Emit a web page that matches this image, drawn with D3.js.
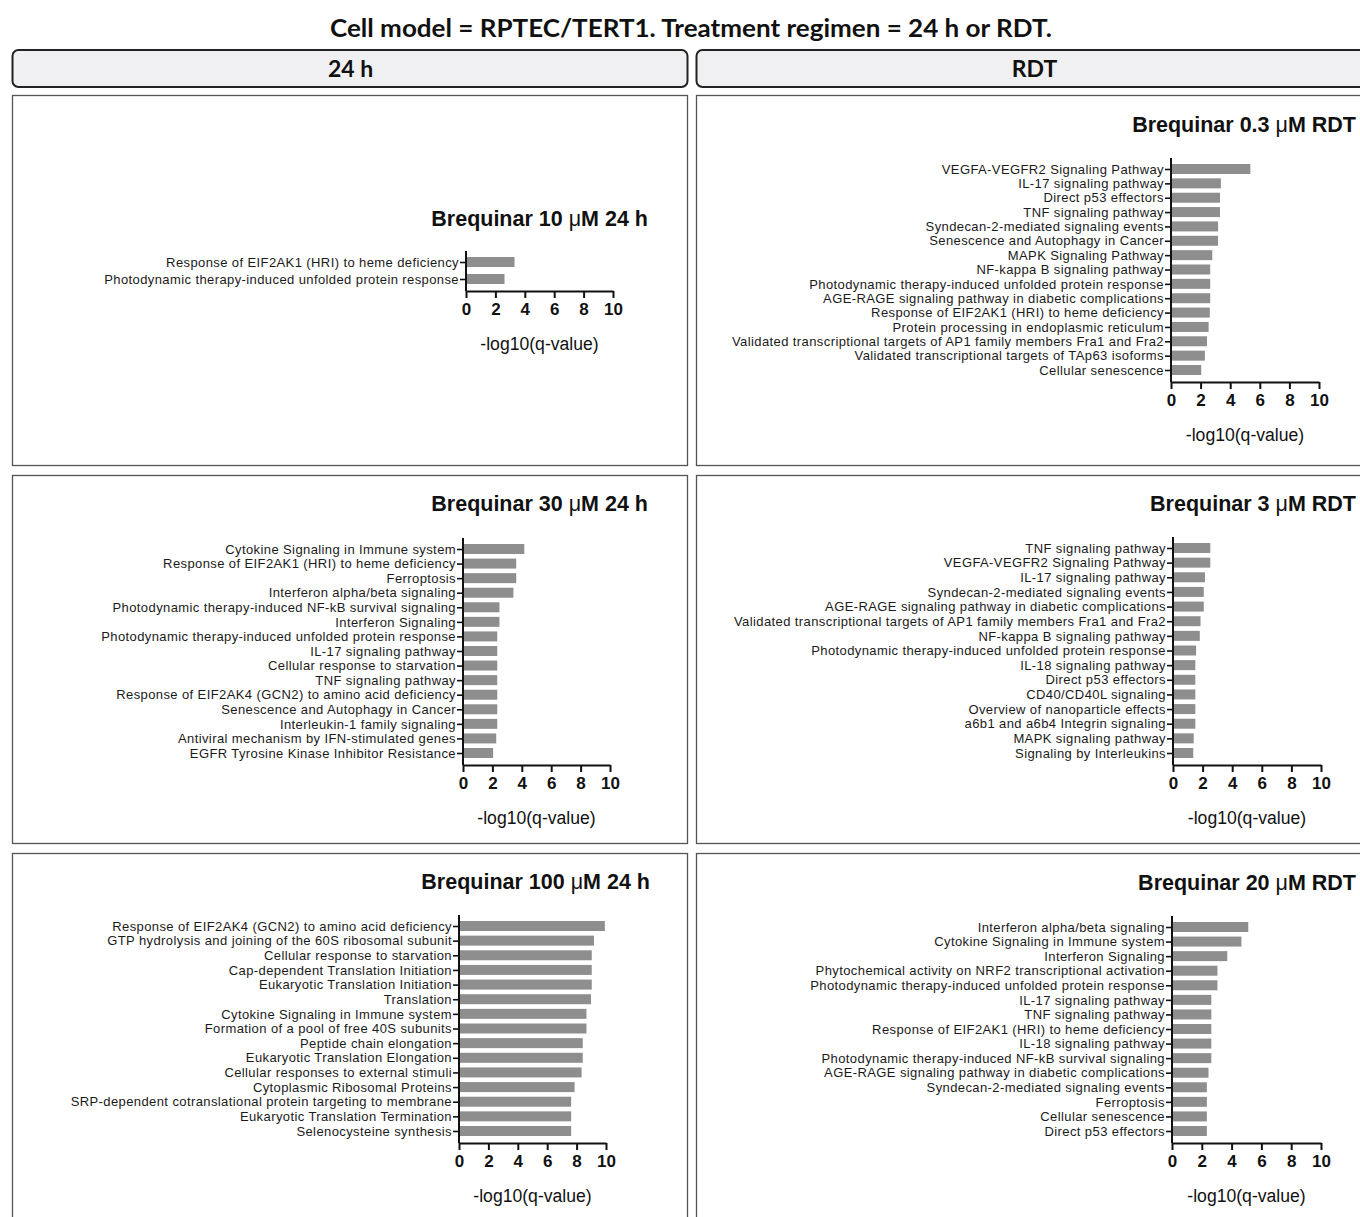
<!DOCTYPE html>
<html>
<head>
<meta charset="utf-8">
<script src="https://cdn.jsdelivr.net/npm/d3@7"></script>
<style>
  html, body { margin: 0; padding: 0; background: #fff; }
  svg { display: block; }
</style>
</head>
<body>
<script>
// ---- Enrichment results: pathway terms and -log10(q-value) per condition ----
const xTicks = [0, 2, 4, 6, 8, 10];

const terms10uM24h = [
  "Response of EIF2AK1 (HRI) to heme deficiency",
  "Photodynamic therapy-induced unfolded protein response"
];
const values10uM24h = [3.3, 2.62];

const terms03uMRDT = [
  "VEGFA-VEGFR2 Signaling Pathway",
  "IL-17 signaling pathway",
  "Direct p53 effectors",
  "TNF signaling pathway",
  "Syndecan-2-mediated signaling events",
  "Senescence and Autophagy in Cancer",
  "MAPK Signaling Pathway",
  "NF-kappa B signaling pathway",
  "Photodynamic therapy-induced unfolded protein response",
  "AGE-RAGE signaling pathway in diabetic complications",
  "Response of EIF2AK1 (HRI) to heme deficiency",
  "Protein processing in endoplasmic reticulum",
  "Validated transcriptional targets of AP1 family members Fra1 and Fra2",
  "Validated transcriptional targets of TAp63 isoforms",
  "Cellular senescence"
];
const values03uMRDT = [5.36, 3.37, 3.31, 3.31, 3.18, 3.18, 2.79, 2.65, 2.65, 2.65, 2.62, 2.54, 2.43, 2.29, 2.04];

const terms30uM24h = [
  "Cytokine Signaling in Immune system",
  "Response of EIF2AK1 (HRI) to heme deficiency",
  "Ferroptosis",
  "Interferon alpha/beta signaling",
  "Photodynamic therapy-induced NF-kB survival signaling",
  "Interferon Signaling",
  "Photodynamic therapy-induced unfolded protein response",
  "IL-17 signaling pathway",
  "Cellular response to starvation",
  "TNF signaling pathway",
  "Response of EIF2AK4 (GCN2) to amino acid deficiency",
  "Senescence and Autophagy in Cancer",
  "Interleukin-1 family signaling",
  "Antiviral mechanism by IFN-stimulated genes",
  "EGFR Tyrosine Kinase Inhibitor Resistance"
];
const values30uM24h = [4.17, 3.62, 3.62, 3.43, 2.48, 2.48, 2.33, 2.33, 2.33, 2.33, 2.33, 2.33, 2.33, 2.26, 2.05];

const terms3uMRDT = [
  "TNF signaling pathway",
  "VEGFA-VEGFR2 Signaling Pathway",
  "IL-17 signaling pathway",
  "Syndecan-2-mediated signaling events",
  "AGE-RAGE signaling pathway in diabetic complications",
  "Validated transcriptional targets of AP1 family members Fra1 and Fra2",
  "NF-kappa B signaling pathway",
  "Photodynamic therapy-induced unfolded protein response",
  "IL-18 signaling pathway",
  "Direct p53 effectors",
  "CD40/CD40L signaling",
  "Overview of nanoparticle effects",
  "a6b1 and a6b4 Integrin signaling",
  "MAPK signaling pathway",
  "Signaling by Interleukins"
];
const values3uMRDT = [2.52, 2.52, 2.16, 2.08, 2.08, 1.86, 1.81, 1.56, 1.51, 1.51, 1.51, 1.51, 1.51, 1.40, 1.37];

const terms100uM24h = [
  "Response of EIF2AK4 (GCN2) to amino acid deficiency",
  "GTP hydrolysis and joining of the 60S ribosomal subunit",
  "Cellular response to starvation",
  "Cap-dependent Translation Initiation",
  "Eukaryotic Translation Initiation",
  "Translation",
  "Cytokine Signaling in Immune system",
  "Formation of a pool of free 40S subunits",
  "Peptide chain elongation",
  "Eukaryotic Translation Elongation",
  "Cellular responses to external stimuli",
  "Cytoplasmic Ribosomal Proteins",
  "SRP-dependent cotranslational protein targeting to membrane",
  "Eukaryotic Translation Termination",
  "Selenocysteine synthesis"
];
const values100uM24h = [9.92, 9.18, 9.03, 9.03, 9.03, 8.98, 8.67, 8.67, 8.42, 8.42, 8.34, 7.86, 7.63, 7.63, 7.63];

const terms20uMRDT = [
  "Interferon alpha/beta signaling",
  "Cytokine Signaling in Immune system",
  "Interferon Signaling",
  "Phytochemical activity on NRF2 transcriptional activation",
  "Photodynamic therapy-induced unfolded protein response",
  "IL-17 signaling pathway",
  "TNF signaling pathway",
  "Response of EIF2AK1 (HRI) to heme deficiency",
  "IL-18 signaling pathway",
  "Photodynamic therapy-induced NF-kB survival signaling",
  "AGE-RAGE signaling pathway in diabetic complications",
  "Syndecan-2-mediated signaling events",
  "Ferroptosis",
  "Cellular senescence",
  "Direct p53 effectors"
];
const values20uMRDT = [5.12, 4.66, 3.71, 3.05, 3.05, 2.64, 2.64, 2.64, 2.64, 2.64, 2.45, 2.34, 2.34, 2.34, 2.34];

const mainTitle = "Cell model = RPTEC/TERT1. Treatment regimen = 24 h or RDT.";
const stripLabels = ["24 h", "RDT"];
const axisTitle = "-log10(q-value)";

// ---- Page layout ----
const W = 1360, H = 1217;
const colX = [12.5, 696.5];
const colW = 676;
const rowY = [95.5, 475.5, 853.5];
const rowH = [370, 368, 380];

const panels = [
  { col: 0, row: 0, dose: "10", regimen: "24 h", terms: terms10uM24h, values: values10uM24h,
    x0: 466, x1: 613, top: 251, bottom: 291, titleRight: 648, titleY: 226 },
  { col: 1, row: 0, dose: "0.3", regimen: "RDT", terms: terms03uMRDT, values: values03uMRDT,
    x0: 1171, x1: 1319, top: 158, bottom: 382, titleRight: 1356, titleY: 132 },
  { col: 0, row: 1, dose: "30", regimen: "24 h", terms: terms30uM24h, values: values30uM24h,
    x0: 463, x1: 610, top: 538, bottom: 765, titleRight: 648, titleY: 511 },
  { col: 1, row: 1, dose: "3", regimen: "RDT", terms: terms3uMRDT, values: values3uMRDT,
    x0: 1173, x1: 1321, top: 537, bottom: 765, titleRight: 1356, titleY: 511 },
  { col: 0, row: 2, dose: "100", regimen: "24 h", terms: terms100uM24h, values: values100uM24h,
    x0: 459, x1: 606, top: 915, bottom: 1143, titleRight: 650, titleY: 889 },
  { col: 1, row: 2, dose: "20", regimen: "RDT", terms: terms20uMRDT, values: values20uMRDT,
    x0: 1172, x1: 1321, top: 916, bottom: 1143, titleRight: 1356, titleY: 890 }
];

const svg = d3.select("body").append("svg")
  .attr("width", W).attr("height", H)
  .attr("viewBox", `0 0 ${W} ${H}`);

const headFont = "Lato, 'Open Sans', sans-serif";
const labelFont = "'Liberation Sans', Arial, sans-serif";

// Overall title
svg.append("text")
  .attr("x", 691).attr("y", 37)
  .attr("text-anchor", "middle")
  .attr("font-family", headFont)
  .attr("font-weight", 700)
  .attr("font-size", 25)
  .attr("textLength", 722)
  .attr("lengthAdjust", "spacingAndGlyphs")
  .attr("fill", "#111")
  .text(mainTitle);

// Facet strips
stripLabels.forEach((lab, i) => {
  svg.append("rect")
    .attr("x", colX[i]).attr("y", 50)
    .attr("width", colW - 1).attr("height", 37)
    .attr("rx", 6).attr("ry", 6)
    .attr("fill", "#f0f0f2")
    .attr("stroke", "#222").attr("stroke-width", 2);
  svg.append("text")
    .attr("x", colX[i] + colW / 2).attr("y", 77)
    .attr("text-anchor", "middle")
    .attr("font-family", headFont)
    .attr("font-weight", 700)
    .attr("font-size", 23)
    .attr("fill", "#111")
    .text(lab);
});

// Panel frames
panels.forEach(p => {
  svg.append("rect")
    .attr("x", colX[p.col]).attr("y", rowY[p.row])
    .attr("width", colW - 1).attr("height", rowH[p.row])
    .attr("fill", "#fff")
    .attr("stroke", "#555").attr("stroke-width", 1.3);
});

panels.forEach(p => {
  const g = svg.append("g");

  const x = d3.scaleLinear().domain([0, 10]).range([p.x0, p.x1]);
  const y = d3.scalePoint().domain(p.terms).range([p.top + 11, p.bottom - 12]);
  const barH = 10;

  // Bars
  g.selectAll("rect.bar")
    .data(p.terms.map((t, i) => ({ term: t, value: p.values[i] })))
    .join("rect")
    .attr("class", "bar")
    .attr("x", x(0))
    .attr("y", d => y(d.term) - barH / 2)
    .attr("width", d => x(d.value) - x(0))
    .attr("height", barH)
    .attr("fill", "#8e8e8e");

  // Y axis with pathway labels
  const yAxisG = g.append("g")
    .attr("transform", `translate(${p.x0},0)`)
    .call(d3.axisLeft(y).tickSize(6).tickPadding(1));
  yAxisG.select(".domain").remove();
  yAxisG.append("line")
    .attr("x1", 0).attr("x2", 0)
    .attr("y1", p.top).attr("y2", p.bottom)
    .attr("stroke", "#111").attr("stroke-width", 2);
  yAxisG.selectAll(".tick line").attr("stroke", "#111").attr("stroke-width", 1.6);
  yAxisG.selectAll(".tick text")
    .attr("font-family", labelFont)
    .attr("font-size", 13)
    .attr("letter-spacing", 0.4)
    .attr("fill", "#1a1a1a");

  // X axis
  const xAxisG = g.append("g")
    .attr("transform", `translate(0,${p.bottom})`)
    .call(d3.axisBottom(x).tickValues(xTicks).tickSize(7).tickPadding(5).tickSizeOuter(0));
  xAxisG.select(".domain").attr("stroke", "#111").attr("stroke-width", 2);
  xAxisG.selectAll(".tick line").attr("stroke", "#111").attr("stroke-width", 2);
  xAxisG.selectAll(".tick text")
    .attr("font-family", labelFont)
    .attr("font-weight", 700)
    .attr("font-size", 17)
    .attr("fill", "#111");

  // Axis title
  g.append("text")
    .attr("x", (p.x0 + p.x1) / 2)
    .attr("y", p.bottom + 59)
    .attr("text-anchor", "middle")
    .attr("font-family", labelFont)
    .attr("font-size", 17.6)
    .attr("fill", "#111")
    .text(axisTitle);

  // Panel title: "Brequinar <dose> μM <regimen>"
  const t = g.append("text")
    .attr("x", p.titleRight)
    .attr("y", p.titleY)
    .attr("text-anchor", "end")
    .attr("font-family", labelFont)
    .attr("font-weight", 700)
    .attr("font-size", 21.5)
    .attr("fill", "#111");
  t.append("tspan").text(`Brequinar ${p.dose} `);
  t.append("tspan").attr("font-weight", 400).text("\u03BC");
  t.append("tspan").text(`M ${p.regimen}`);
});
</script>
</body>
</html>
